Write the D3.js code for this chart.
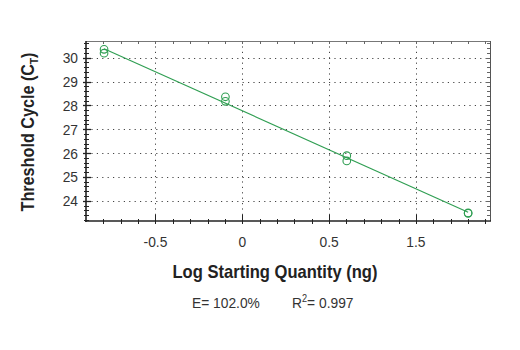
<!DOCTYPE html>
<html>
<head>
<meta charset="utf-8">
<script src="https://cdn.jsdelivr.net/npm/d3@7"></script>
<style>
  body { margin: 0; background: #fff; }
  svg { display: block; }
  text { font-family: "Liberation Sans", Arial, sans-serif; }
  .tick-label { font-size: 15px; fill: #333; }
  .title { font-weight: bold; font-size: 18px; fill: #222; }
  .stats { font-size: 15px; fill: #333; }
</style>
</head>
<body>
<svg id="chart" width="520" height="350"></svg>
<script>
// Standard curve: log starting quantity (ng) vs threshold cycle, 5-fold dilutions
const logQuantity = [-0.796, -0.796, -0.097, -0.097, 0.602, 0.602, 1.301, 1.301];
const thresholdCycle = [30.35, 30.19, 28.36, 28.17, 25.89, 25.67, 23.49, 23.47];

const xTickValues = [-0.5, 0, 0.5, 1.0];
const xTickLabels = ["-0.5", "0", "0.5", "1.5"];
const yTickValues = [24, 25, 26, 27, 28, 29, 30];
const yTickLabels = ["24", "25", "26", "27", "28", "29", "30"];

const efficiencyText = "E= 102.0%";
const rSquaredValue = "0.997";

const svg = d3.select("#chart");
const plotLeft = 86, plotRight = 490, plotTop = 41, plotBottom = 221;
const condense = 0.92; // narrow the sans face to a condensed look

const x = d3.scaleLinear().domain([-0.9, 1.427]).range([plotLeft, plotRight]);
const y = d3.scaleLinear().domain([23.15, 30.7]).range([plotBottom, plotTop]);

const green = "#2f9e52";
const axisColor = "#222";

// dotted grid
const grid = svg.append("g").attr("stroke", "#444").attr("stroke-width", 1)
  .attr("stroke-dasharray", "1.2,4.2");
grid.append("g").selectAll("line").data(yTickValues).join("line")
  .attr("x1", plotLeft).attr("x2", plotRight)
  .attr("y1", d => Math.round(y(d)) + 0.5).attr("y2", d => Math.round(y(d)) + 0.5);
grid.append("g").selectAll("line").data(xTickValues).join("line")
  .attr("y1", plotTop).attr("y2", plotBottom)
  .attr("x1", d => Math.round(x(d)) + 0.5).attr("x2", d => Math.round(x(d)) + 0.5);

// frame
const frame = svg.append("g").attr("stroke", axisColor);
frame.append("line").attr("x1", plotLeft).attr("x2", plotRight).attr("y1", plotTop + 0.5).attr("y2", plotTop + 0.5).attr("stroke", "#777");
frame.append("line").attr("x1", plotRight + 0.5).attr("x2", plotRight + 0.5).attr("y1", plotTop).attr("y2", plotBottom).attr("stroke", "#555");
frame.append("line").attr("x1", plotLeft).attr("x2", plotLeft).attr("y1", plotTop).attr("y2", plotBottom + 1).attr("stroke-width", 1.6);
frame.append("line").attr("x1", plotLeft - 1).attr("x2", plotRight + 1).attr("y1", plotBottom).attr("y2", plotBottom).attr("stroke-width", 1.6);

// minor / major ticks
const xMinor = d3.range(-8, 15).map(i => i / 10);
const yMinor = d3.range(0, 38).map(i => +(23.2 + i * 0.2).toFixed(1)).filter(v => v <= 30.7);
const isMajorX = v => xTickValues.some(t => Math.abs(t - v) < 1e-6);
const isMajorY = v => Math.abs(v - Math.round(v)) < 1e-6 && v >= 24 && v <= 30;

const ticks = svg.append("g").attr("stroke", axisColor).attr("stroke-width", 1);
// bottom
ticks.append("g").selectAll("line").data(xMinor).join("line")
  .attr("x1", d => Math.round(x(d)) + 0.5).attr("x2", d => Math.round(x(d)) + 0.5)
  .attr("y1", d => plotBottom - (isMajorX(d) ? 6 : 2)).attr("y2", d => plotBottom + 3);
// top
ticks.append("g").selectAll("line").data(xMinor).join("line")
  .attr("stroke", "#666")
  .attr("x1", d => Math.round(x(d)) + 0.5).attr("x2", d => Math.round(x(d)) + 0.5)
  .attr("y1", plotTop).attr("y2", plotTop + 3);
// left
ticks.append("g").selectAll("line").data(yMinor).join("line")
  .attr("y1", d => Math.round(y(d)) + 0.5).attr("y2", d => Math.round(y(d)) + 0.5)
  .attr("x1", d => plotLeft - (isMajorY(d) ? 3 : 2)).attr("x2", d => plotLeft + (isMajorY(d) ? 5 : 3))
  .attr("stroke-width", d => isMajorY(d) ? 1.3 : 1);
// right
ticks.append("g").selectAll("line").data(yMinor).join("line")
  .attr("stroke", "#666")
  .attr("y1", d => Math.round(y(d)) + 0.5).attr("y2", d => Math.round(y(d)) + 0.5)
  .attr("x1", plotRight - 3).attr("x2", plotRight);

// positions a text element at (px, py), horizontally condensed
const place = (px, py, extra = "") => `translate(${px},${py}) ${extra} scale(${condense},1)`;

// tick labels
svg.append("g").selectAll("text").data(yTickValues).join("text")
  .attr("class", "tick-label")
  .attr("transform", d => place(plotLeft - 8, y(d) + 5.5))
  .attr("text-anchor", "end")
  .text((d, i) => yTickLabels[i]);
svg.append("g").selectAll("text").data(xTickValues).join("text")
  .attr("class", "tick-label")
  .attr("transform", d => place(x(d), 247))
  .attr("text-anchor", "middle")
  .text((d, i) => xTickLabels[i]);

// least-squares regression line over the data range
const n = logQuantity.length;
const mx = d3.mean(logQuantity), my = d3.mean(thresholdCycle);
let sxy = 0, sxx = 0;
for (let i = 0; i < n; i++) {
  sxy += (logQuantity[i] - mx) * (thresholdCycle[i] - my);
  sxx += (logQuantity[i] - mx) ** 2;
}
const slope = sxy / sxx, intercept = my - slope * mx;
const [x0, x1] = d3.extent(logQuantity);
svg.append("line")
  .attr("x1", x(x0)).attr("y1", y(intercept + slope * x0))
  .attr("x2", x(x1)).attr("y2", y(intercept + slope * x1))
  .attr("stroke", green).attr("stroke-width", 1.1);

// replicate points
svg.append("g").selectAll("circle").data(logQuantity).join("circle")
  .attr("cx", d => x(d)).attr("cy", (d, i) => y(thresholdCycle[i]))
  .attr("r", 3.8)
  .attr("fill", "none").attr("stroke", green).attr("stroke-width", 1.1);

// axis titles
svg.append("text").attr("class", "title")
  .attr("transform", place(275, 278))
  .attr("text-anchor", "middle")
  .text("Log Starting Quantity (ng)");

const yt = svg.append("text").attr("class", "title")
  .attr("transform", `translate(34,132) rotate(-90) scale(0.9,1)`)
  .attr("text-anchor", "middle");
yt.append("tspan").text("Threshold Cycle (C");
yt.append("tspan").attr("font-size", "11px").attr("dy", 4).text("T");
yt.append("tspan").attr("dy", -4).text(")");

// efficiency / fit statistics
svg.append("text").attr("class", "stats")
  .attr("transform", place(192, 308)).text(efficiencyText);
const r2 = svg.append("text").attr("class", "stats")
  .attr("transform", place(292, 308));
r2.append("tspan").text("R");
r2.append("tspan").attr("font-size", "10px").attr("dy", -6).text("2");
r2.append("tspan").attr("dy", 6).text("= " + rSquaredValue);
</script>
</body>
</html>
